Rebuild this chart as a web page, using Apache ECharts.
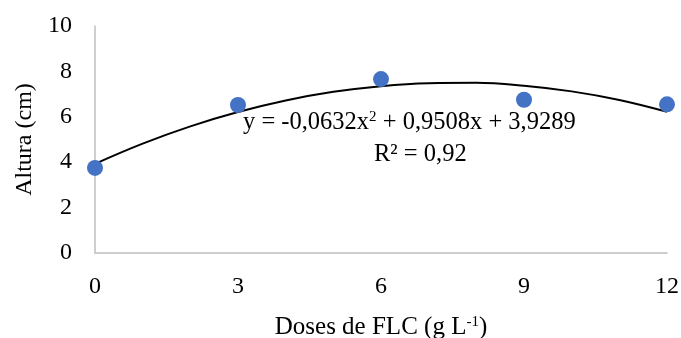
<!DOCTYPE html>
<html><head><meta charset="utf-8">
<script src="https://cdn.jsdelivr.net/npm/echarts@6/dist/echarts.min.js"></script>
<style>html,body{margin:0;padding:0;background:#fff}#c{width:681px;height:338px}</style>
</head><body><div id="c"></div>
<script>
const doses = [0, 3, 6, 9, 12];
const altura = [3.75, 6.52, 7.66, 6.75, 6.55];
// trend curve
const trendX = [0, 1, 2, 3, 4, 5, 6, 7, 8, 9, 10, 11, 12];
const trendY = [3.93, 4.82, 5.58, 6.21, 6.72, 7.10, 7.35, 7.48, 7.50, 7.37, 7.12, 6.74, 6.22];
const xTicks = [0, 3, 6, 9, 12];

const F = '"Liberation Serif","Times New Roman",serif';
const chart = echarts.init(document.getElementById('c'));
chart.setOption({
  animation: false,
  grid: {left: 95, right: 14, top: 26, bottom: 85, outerBoundsMode: 'none', containLabel: false},
  xAxis: {
    type: 'value', min: 0, max: 12, interval: 3,
    axisLine: {lineStyle: {color: '#bfbfbf', width: 1.5}},
    axisTick: {show: false}, splitLine: {show: false},
    axisLabel: {color: '#000', fontFamily: F, fontSize: 24, margin: 22,
      formatter: v => xTicks.includes(v) ? String(v) : ''},
    name: '{a|Doses de FLC (g L}{s|-1}{a|)}',
    nameLocation: 'middle', nameGap: 62,
    nameTextStyle: {rich: {
      a: {fontFamily: F, fontSize: 25, color: '#000'},
      s: {fontFamily: F, fontSize: 15, color: '#000', verticalAlign: 'top', padding: [0,0,9,0]}
    }}
  },
  yAxis: {
    type: 'value', min: 0, max: 10, interval: 2,
    axisLine: {show: true, lineStyle: {color: '#bfbfbf', width: 1.5}},
    axisTick: {show: false}, splitLine: {show: false},
    axisLabel: {color: '#000', fontFamily: F, fontSize: 24, margin: 23},
    name: 'Altura (cm)', nameLocation: 'middle', nameGap: 58,
    nameTextStyle: {fontFamily: F, fontSize: 24, color: '#000'}
  },
  series: [
    {type: 'line', data: trendX.map((x, i) => [x, trendY[i]]), smooth: 0.4,
     showSymbol: false, lineStyle: {color: '#000', width: 2}, z: 1},
    {type: 'scatter', data: doses.map((x, i) => [x, altura[i]]), symbolSize: 16,
     itemStyle: {color: '#4472c4', opacity: 1}, z: 3}
  ],
  graphic: [
    {type: 'text', left: 243, top: 110, style: {
      text: '{a|y = -0,0632x}{s|2}{a| + 0,9508x + 3,9289}',
      rich: {
        a: {fontFamily: F, fontSize: 24.5, fill: '#000'},
        s: {fontFamily: F, fontSize: 15, fill: '#000', verticalAlign: 'top', padding: [0,0,9,0]}
      }}},
    {type: 'text', left: 374, top: 142, style: {
      text: 'R² = 0,92', fontFamily: F, fontSize: 24.5, fill: '#000'}}
  ]
});
</script></body></html>
